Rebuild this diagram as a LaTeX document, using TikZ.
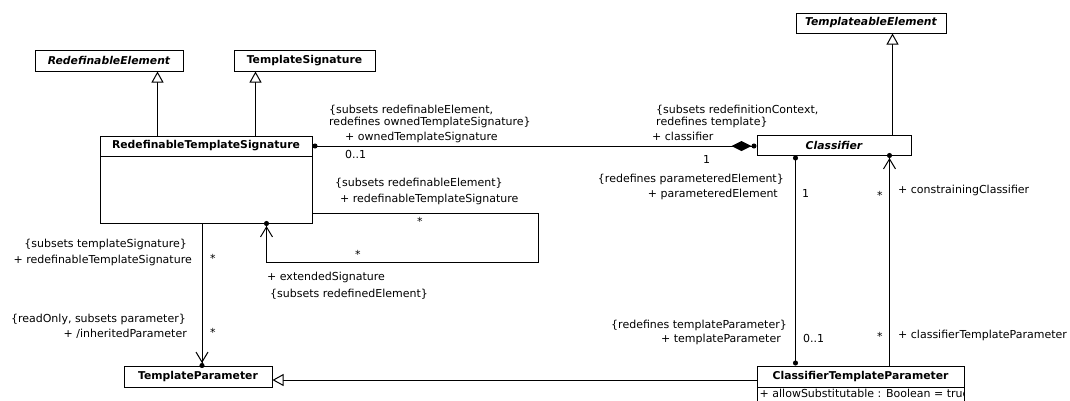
\documentclass[tikz,border=0pt]{standalone}
\usepackage{fontspec}
\setmainfont{DejaVu Sans}
\usetikzlibrary{arrows.meta}
\begin{document}
\begin{tikzpicture}[x=1pt,y=-1pt,
  cls/.style={draw, line width=1pt, inner sep=0pt, font=\bfseries\fontsize{10.8}{13}\selectfont},
  lbl/.style={inner sep=0pt, anchor=base west, font=\fontsize{11}{12.5}\selectfont},
  lble/.style={lbl, anchor=base east},
  ln/.style={line width=1pt},
  gen/.style={ln, -{Triangle[open, length=11pt, width=12pt, fill=white]}},
]
\useasboundingbox (0,0) rectangle (1070,400);
% classes
\node[cls, minimum width=148pt, minimum height=21pt] (re) at (109,60.5) {\itshape RedefinableElement};
\node[cls, minimum width=141pt, minimum height=21pt] (ts) at (304.5,60.5) {TemplateSignature};
\node[cls, minimum width=150pt, minimum height=20pt] (te) at (871,23) {\itshape TemplateableElement};
\node[cls, minimum width=212pt, minimum height=20pt] (rtsh) at (206,146) {RedefinableTemplateSignature};
\node[cls, minimum width=212pt, minimum height=67pt] (rtsb) at (206,189.5) {};
\node[cls, minimum width=154pt, minimum height=20pt] (clsf) at (834,145) {\itshape Classifier};
\node[cls, minimum width=148pt, minimum height=21pt] (tp) at (198,376.5) {TemplateParameter};
\node[cls, minimum width=207pt, minimum height=21pt] (ctph) at (860.5,376.5) {ClassifierTemplateParameter};
\node[cls, minimum width=207pt, minimum height=20pt] (ctpb) at (860.5,397) {};
\begin{scope}
\clip (ctpb.south west) rectangle (ctpb.north east);
\node[lbl] (attr) at (759.5,397) {+ allowSubstitutable : Boolean = true};
\end{scope}
% generalizations
\draw[gen] ([xshift=58pt]rtsh.north west) -- ([xshift=58pt]rtsh.north west |- re.south);
\draw[gen] ([xshift=156pt]rtsh.north west) -- ([xshift=156pt]rtsh.north west |- ts.south);
\draw[gen] ([xshift=136pt]clsf.north west) -- ([xshift=136pt]clsf.north west |- te.south);
\draw[gen] ([yshift=-3.5pt]ctph.west) -- ([yshift=-3.5pt]tp.east);
% associations
\draw[ln, {Circle[length=5pt]}-{Diamond[length=20pt,width=10pt] Circle[length=5pt]}] (rtsh.east) -- (rtsh.east -| clsf.west);
\draw[ln, -{Straight Barb[length=10pt,width=12pt] Circle[length=5pt,sep=-2.5pt]}] ([xshift=-4pt]rtsb.south) -- ([xshift=-4pt]rtsb.south |- tp.north);
\draw[ln, {Circle[length=5pt]}-{Circle[length=5pt]}] ([xshift=39pt]clsf.south west) -- ([xshift=39pt]clsf.south west |- ctph.north);
\draw[ln, {Circle[length=5pt,sep=-2.5pt] Straight Barb[length=10pt,width=12pt]}-] ([xshift=133pt]clsf.south west) -- ([xshift=133pt]clsf.south west |- ctph.north);
\coordinate (sa1) at (538,213);
\coordinate (sa2) at (538,262);
\draw[ln, -{Straight Barb[length=10pt,width=12pt] Circle[length=5pt,sep=-2.5pt]}] (rtsb.east |- sa1) -- (sa1) -- (sa2) -- ([xshift=167pt]rtsb.south west |- sa2) -- ([xshift=167pt]rtsb.south west);
% labels
\node[lbl] (l1a) at (329,113) {\{subsets redefinableElement,};
\node[lbl] (l1b) at (329,125) {redefines ownedTemplateSignature\}};
\node[lbl] (l2) at (345,140) {+ ownedTemplateSignature};
\node[lbl] (l3) at (345,158) {0..1};
\node[lbl] (l4a) at (656,113) {\{subsets redefinitionContext,};
\node[lbl] (l4b) at (656,125) {redefines template\}};
\node[lbl] (l5) at (652,140) {+ classifier};
\node[lbl] (l6) at (703,163) {1};
\node[lble] (l7) at (784,182) {\{redefines parameteredElement\}};
\node[lble] (l8) at (778,197) {+ parameteredElement};
\node[lbl] (l9) at (802,197) {1};
\node[lbl] (l10) at (877,199) {*};
\node[lbl] (l11) at (898,193) {+ constrainingClassifier};
\node[lbl] (l12) at (335,186) {\{subsets redefinableElement\}};
\node[lbl] (l13) at (340,202) {+ redefinableTemplateSignature};
\node[lbl] (l14) at (417,225) {*};
\node[lbl] (l15) at (355,258) {*};
\node[lbl] (l16) at (267,280) {+ extendedSignature};
\node[lbl] (l17) at (270,297) {\{subsets redefinedElement\}};
\node[lble] (l18) at (187,247) {\{subsets templateSignature\}};
\node[lble] (l19) at (192,263) {+ redefinableTemplateSignature};
\node[lbl] (l20) at (210,262) {*};
\node[lble] (l21) at (186,322) {\{readOnly, subsets parameter\}};
\node[lble] (l22) at (187,337) {+ /inheritedParameter};
\node[lbl] (l23) at (210,336) {*};
\node[lble] (l24) at (787,328) {\{redefines templateParameter\}};
\node[lble] (l25) at (781,342) {+ templateParameter};
\node[lbl] (l26) at (803,342) {0..1};
\node[lbl] (l27) at (877,340) {*};
\node[lbl] (l28) at (898,338) {+ classifierTemplateParameter};
\end{tikzpicture}
\end{document}
